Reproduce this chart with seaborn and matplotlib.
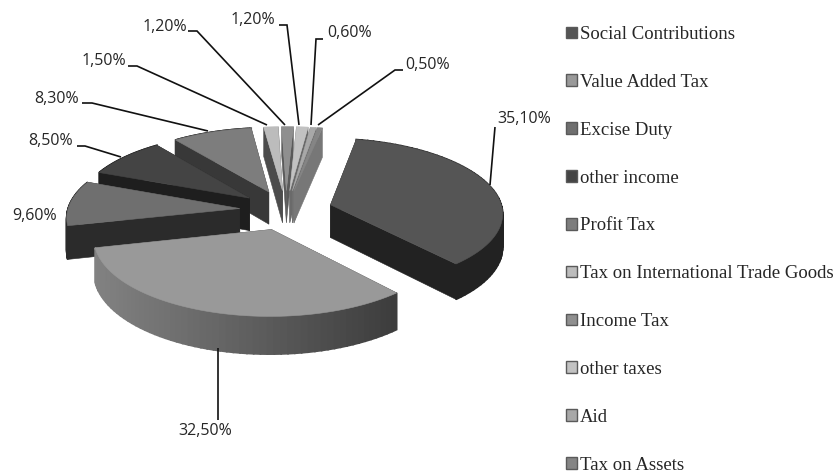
"""
Exploded 3D style revenue pie. ax.pie gives the slice angles, the tilt and the
walls are projected by hand since matplotlib has no 3D pie.
"""

import numpy as np
import matplotlib
matplotlib.use("Agg")
import matplotlib.pyplot as plt
from matplotlib.patches import Patch
import seaborn as sns

# Data
CATEGORIES = ['Social Contributions', 'Value Added Tax', 'Excise Duty', 'other income',
              'Profit Tax', 'Tax on International Trade Goods', 'Income Tax',
              'other taxes', 'Aid', 'Tax on Assets']
VALUES = [35.1, 32.5, 9.6, 8.5, 8.3, 1.5, 1.2, 1.2, 0.6, 0.5]

# Colours per slice
TOP_COLORS = ['#555555', '#999999', '#6f6f6f', '#444444', '#7d7d7d',
              '#bcbcbc', '#8f8f8f', '#c2c2c2', '#a8a8a8', '#858585']
WALL_LEFT = ['#222222', '#828282', '#2b2b2b', '#1e1e1e', '#383838',
             '#4c4c4c', '#5a5a5a', '#6a6a6a', '#707070', '#777777']
WALL_RIGHT = ['#222222', '#3c3c3c', '#2b2b2b', '#1e1e1e', '#383838',
              '#4c4c4c', '#5a5a5a', '#6a6a6a', '#707070', '#777777']

# Label placement in pixels: anchor of text, ha, leader polyline
LABELS = [
    (497, 119, 'left', [(495, 127), (490, 185)]),
    (205, 431, 'center', [(218, 348), (218, 420)]),
    (57, 216, 'right', None),
    (73, 141, 'right', [(77, 146), (85, 146), (121, 157)]),
    (79, 99, 'right', [(82, 103), (92, 103), (208, 131)]),
    (126, 61, 'right', [(128, 66), (137, 66), (267, 125)]),
    (187, 27, 'right', [(188, 31), (197, 31), (285, 125)]),
    (275, 20, 'right', [(279, 25), (287, 25), (299, 125)]),
    (327, 33, 'left', [(323, 39), (316, 39), (311, 125)]),
    (405, 65, 'left', [(403, 70), (395, 70), (318, 125)]),
]

# Projection
CX, CY = 286, 210
RX, RY = 172, 74
PERSP = 0.10
DEPTH = 33
EXPLODE = 0.27
START = 79


def project(x, y, z=0.0):
    s = 1.0 / (1.0 + PERSP * np.asarray(y))
    return CX + RX * np.asarray(x) * s, CY - RY * np.asarray(y) * s + z * s


def quad(ax, x0, y0, x1, y1, color, order, lw=0.4):
    xa, ya = project([x0, x1], [y0, y1])
    xb, yb = project([x1, x0], [y1, y0], DEPTH)
    ax.fill(np.r_[xa, xb], np.r_[ya, yb], color=color, lw=lw, zorder=order)


sns.set_theme(style='white')
plt.rcParams['font.family'] = ['Open Sans', 'DejaVu Sans']

fig = plt.figure(figsize=(8.36, 4.72), dpi=100)
ax = fig.add_axes([0, 0, 1, 1])

wedges, _ = ax.pie(VALUES, explode=[EXPLODE] * len(VALUES), startangle=START,
                   counterclock=False, colors=TOP_COLORS)
ax.set_aspect('auto')
ax.set_xlim(0, 836)
ax.set_ylim(472, 0)
ax.axis('off')

# paint from the back of the pie to the front
order_idx = sorted(range(len(wedges)), key=lambda i: -wedges[i].center[1])
for rank, i in enumerate(order_idx):
    w = wedges[i]
    w.set_visible(False)
    base = 10 + rank * 10
    cx0, cy0 = w.center
    th = np.radians(np.linspace(w.theta1, w.theta2, 60))
    ax_pts = cx0 + w.r * np.cos(th)
    ay_pts = cy0 + w.r * np.sin(th)

    # radial walls, the one further back first
    ends = sorted([0, -1], key=lambda k: -ay_pts[k])
    for k in ends:
        col = WALL_RIGHT[i] if i < 5 else WALL_LEFT[i]
        quad(ax, cx0, cy0, ax_pts[k], ay_pts[k], col, base)

    # outer wall, split up so it can carry a left to right gradient
    sx, _ = project(ax_pts, ay_pts)
    span = max(sx.max() - sx.min(), 1)
    left = np.array(matplotlib.colors.to_rgb(WALL_LEFT[i]))
    right = np.array(matplotlib.colors.to_rgb(WALL_RIGHT[i]))
    for j in range(len(th) - 1):
        if ay_pts[j] > cy0 + 0.3 and i >= 5:
            continue
        t = (sx[j] - sx.min()) / span
        quad(ax, ax_pts[j], ay_pts[j], ax_pts[j + 1], ay_pts[j + 1],
             left + (right - left) * t, base + 1, lw=1.2)

    # top face
    fx, fy = project(np.r_[cx0, ax_pts], np.r_[cy0, ay_pts])
    ax.fill(fx, fy, color=TOP_COLORS[i], lw=0.4, zorder=base + 2)

# percentage labels and leader lines
for val, (tx, ty, ha, leader) in zip(VALUES, LABELS):
    ax.text(tx, ty, f"{val:.2f}".replace('.', ',') + '%', ha=ha, va='center',
            fontsize=11.5, color='#262626', zorder=200)
    if leader:
        ax.plot(*zip(*leader), color='#111111', lw=1.2, zorder=190,
                solid_capstyle='butt', solid_joinstyle='miter')

handles = [Patch(facecolor=c, edgecolor='#5a5a5a', lw=1.0) for c in TOP_COLORS]
ax.legend(handles, CATEGORIES, loc='upper left', bbox_to_anchor=(566, 26),
          bbox_transform=ax.transData, frameon=False, ncol=1,
          prop={'family': 'Liberation Serif', 'size': 13.5},
          labelspacing=1.645, handlelength=0.58, handleheight=0.58,
          handletextpad=0.14, borderpad=0, borderaxespad=0)

fig.savefig('out.png', dpi=100)
